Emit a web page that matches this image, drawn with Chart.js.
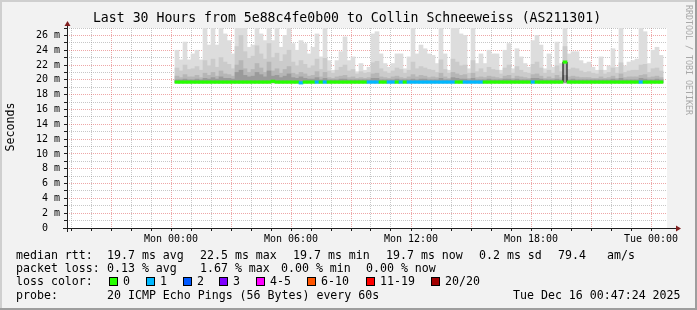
<!DOCTYPE html>
<html>
<head>
<meta charset="utf-8">
<script src="https://cdn.jsdelivr.net/npm/chart.js@4/dist/chart.umd.min.js"></script>
<style>
html, body { margin: 0; padding: 0; background: #f2f2f2; }
canvas { display: block; }
</style>
</head>
<body>
<canvas id="graph" width="697" height="310"></canvas>
<script>
const TITLE = "Last 30 Hours from 5e88c4fe0b00 to Collin Schneeweiss (AS211301)";
const Y_LABEL = "Seconds";
const WATERMARK = "RRDTOOL / TOBI OETIKER";

// time bins: 12 minutes each, hours counted from Mon 00:00
const FIRST_BIN = 0.3;
const BIN_HOURS = 0.2;
const SMOKE_FLOOR = 19.6;

// highest ping per bin (ms)
const maxRtt = [
    24.0, 22.7, 25.1, 22.7, 23.5, 24.0, 22.7, 27.5, 24.7, 27.5,
    24.7, 27.5, 26.2, 25.3, 23.5, 27.5, 27.5, 27.5, 24.4, 24.7,
    27.5, 26.2, 25.3, 27.5, 25.3, 27.5, 24.4, 26.0, 27.5, 24.9,
    24.0, 25.3, 24.9, 23.5, 24.4, 26.2, 23.1, 27.5, 22.6, 21.3,
    22.6, 23.8, 25.8, 22.6, 23.1, 21.1, 22.2, 21.3, 21.7, 26.2,
    26.5, 23.5, 22.2, 21.7, 22.2, 23.5, 23.5, 21.5, 23.1, 27.5,
    23.5, 24.7, 24.2, 23.5, 23.3, 22.2, 27.5, 23.5, 21.3, 27.5,
    27.5, 26.2, 26.0, 21.5, 27.5, 22.2, 23.5, 22.2, 24.0, 23.5,
    23.5, 21.3, 24.0, 24.9, 21.5, 24.2, 23.1, 22.2, 21.7, 25.3,
    26.0, 24.7, 21.5, 23.5, 21.7, 25.1, 22.2, 27.5, 23.5, 23.8,
    23.8, 22.6, 22.2, 22.4, 21.7, 21.3, 23.1, 21.3, 21.9, 24.2,
    21.7, 27.5, 21.9, 22.4, 22.6, 22.8, 27.5, 26.5, 22.2, 24.0,
    24.4, 23.3
];

// inner smoke bands
const upperRtt = [
    21.6, 21.2, 22.0, 21.4, 21.5, 21.8, 21.3, 22.6, 21.9, 22.8,
    21.7, 23.0, 22.4, 22.1, 21.5, 24.5, 26.0, 23.8, 22.9, 23.2,
    24.6, 23.5, 22.8, 24.9, 23.0, 23.6, 22.5, 23.4, 24.0, 22.4,
    21.9, 22.6, 22.1, 21.6, 21.9, 22.8, 21.4, 22.9, 21.2, 20.9,
    21.3, 21.7, 22.0, 21.2, 21.4, 20.8, 21.1, 20.9, 21.0, 22.3,
    22.5, 21.5, 21.1, 20.9, 21.2, 21.6, 21.4, 20.9, 21.3, 22.4,
    21.5, 21.8, 21.6, 21.4, 21.3, 21.0, 22.7, 21.4, 20.9, 22.8,
    22.4, 21.9, 22.0, 20.9, 22.6, 21.1, 21.5, 21.0, 21.7, 21.4,
    21.3, 20.8, 21.6, 22.0, 20.9, 21.8, 21.3, 21.0, 20.9, 22.1,
    22.4, 21.6, 20.9, 21.3, 20.9, 21.9, 21.1, 24.5, 21.4, 21.6,
    21.5, 21.2, 21.0, 21.1, 20.9, 20.8, 21.3, 20.8, 21.0, 21.6,
    20.9, 22.3, 21.0, 21.2, 21.3, 21.3, 22.0, 22.1, 21.0, 21.5,
    21.6, 21.2
];

const midRtt = [
    20.5, 20.3, 20.7, 20.4, 20.4, 20.6, 20.3, 20.9, 20.6, 21.0,
    20.5, 21.2, 20.8, 20.7, 20.5, 22.0, 22.6, 21.5, 21.0, 21.4,
    22.2, 21.6, 21.0, 22.4, 21.2, 21.5, 20.9, 21.4, 21.8, 20.9,
    20.7, 21.0, 20.8, 20.5, 20.6, 21.1, 20.4, 21.0, 20.3, 20.2,
    20.4, 20.5, 20.6, 20.3, 20.4, 20.2, 20.3, 20.2, 20.3, 20.8,
    20.9, 20.4, 20.3, 20.2, 20.4, 20.5, 20.3, 20.2, 20.4, 20.7,
    20.4, 20.6, 20.5, 20.3, 20.4, 20.3, 20.9, 20.4, 20.2, 21.0,
    20.8, 20.6, 20.7, 20.2, 20.9, 20.3, 20.4, 20.3, 20.5, 20.4,
    20.3, 20.2, 20.5, 20.6, 20.2, 20.5, 20.4, 20.3, 20.2, 20.7,
    20.8, 20.5, 20.2, 20.4, 20.2, 20.6, 20.3, 22.4, 20.4, 20.5,
    20.4, 20.3, 20.3, 20.3, 20.2, 20.2, 20.4, 20.2, 20.3, 20.5,
    20.2, 20.8, 20.3, 20.4, 20.4, 20.4, 20.6, 20.7, 20.3, 20.4,
    20.5, 20.3
];

const lowRtt = [
    20.0, 20.0, 20.1, 20.0, 20.0, 20.1, 20.0, 20.2, 20.1, 20.3,
    20.1, 20.4, 20.2, 20.2, 20.1, 21.0, 21.3, 20.6, 20.4, 20.5,
    21.0, 20.7, 20.4, 21.2, 20.5, 20.6, 20.3, 20.5, 20.8, 20.3,
    20.2, 20.4, 20.2, 20.1, 20.1, 20.3, 20.0, 20.2, 20.0, 20.0,
    20.0, 20.1, 20.1, 20.0, 20.0, 20.0, 20.0, 20.0, 20.0, 20.2,
    20.2, 20.0, 20.0, 20.0, 20.0, 20.1, 20.0, 20.0, 20.0, 20.1,
    20.0, 20.1, 20.1, 20.0, 20.0, 20.0, 20.2, 20.0, 20.0, 20.3,
    20.2, 20.1, 20.1, 20.0, 20.2, 20.0, 20.0, 20.0, 20.1, 20.0,
    20.0, 20.0, 20.1, 20.1, 20.0, 20.1, 20.0, 20.0, 20.0, 20.2,
    20.2, 20.1, 20.0, 20.0, 20.0, 20.1, 20.0, 20.6, 20.0, 20.1,
    20.0, 20.0, 20.0, 20.0, 20.0, 20.0, 20.0, 20.0, 20.0, 20.1,
    20.0, 20.2, 20.0, 20.0, 20.0, 20.0, 20.2, 20.1, 20.0, 20.0,
    20.1, 20.0
];

// median rtt (ms)
const medianRtt = [
    19.7, 19.7, 19.7, 19.7, 19.7, 19.7, 19.7, 19.7, 19.7, 19.7,
    19.7, 19.7, 19.7, 19.7, 19.7, 19.7, 19.7, 19.7, 19.7, 19.7,
    19.7, 19.7, 19.7, 19.7, 19.8, 19.7, 19.7, 19.7, 19.7, 19.7,
    19.7, 19.6, 19.7, 19.7, 19.7, 19.7, 19.7, 19.7, 19.7, 19.7,
    19.7, 19.7, 19.7, 19.7, 19.7, 19.7, 19.7, 19.7, 19.7, 19.7,
    19.7, 19.7, 19.7, 19.7, 19.7, 19.7, 19.7, 19.7, 19.7, 19.7,
    19.7, 19.7, 19.7, 19.7, 19.7, 19.7, 19.7, 19.7, 19.7, 19.7,
    19.7, 19.7, 19.7, 19.7, 19.7, 19.7, 19.7, 19.7, 19.7, 19.7,
    19.7, 19.7, 19.7, 19.7, 19.7, 19.7, 19.7, 19.7, 19.7, 19.7,
    19.7, 19.7, 19.7, 19.7, 19.7, 19.7, 19.7, 22.4, 19.7, 19.7,
    19.7, 19.7, 19.7, 19.7, 19.7, 19.7, 19.7, 19.7, 19.7, 19.7,
    19.7, 19.7, 19.7, 19.7, 19.7, 19.7, 19.7, 19.7, 19.7, 19.7,
    19.7, 19.7
];

// lost pings per bin (out of 20)
const lostPings = [
    0, 0, 0, 0, 0, 0, 0, 0, 0, 0,
    0, 0, 0, 0, 0, 0, 0, 0, 0, 0,
    0, 0, 0, 0, 0, 0, 0, 0, 0, 0,
    0, 1, 0, 0, 0, 1, 0, 1, 0, 0,
    0, 0, 0, 0, 0, 0, 0, 0, 1, 1,
    1, 0, 0, 1, 1, 0, 1, 0, 1, 1,
    1, 1, 1, 1, 1, 1, 1, 1, 1, 1,
    0, 0, 1, 1, 1, 1, 1, 0, 0, 0,
    0, 0, 0, 0, 0, 0, 0, 0, 0, 1,
    0, 0, 0, 0, 0, 0, 0, 0, 0, 0,
    0, 0, 0, 0, 0, 0, 0, 0, 0, 0,
    0, 0, 0, 0, 0, 0, 1, 0, 0, 0,
    0, 0
];

const LOSS_LABELS = ["0", "1", "2", "3", "4-5", "6-10", "11-19", "20/20"];
const LOSS_COLORS = ["#26ff00", "#00b8ff", "#0059ff", "#7e00ff", "#ff00ff", "#ff5500", "#ff0000", "#a10000"];

const STAT_LINES = [
    ["median rtt:", "19.7 ms avg", "22.5 ms max", "19.7 ms min", "19.7 ms now", "0.2 ms sd", "79.4", "am/s"],
    ["packet loss:", "0.13 % avg", "1.67 % max", "0.00 % min", "0.00 % now"],
];
const LOSS_TITLE = "loss color:";
const PROBE_LINE = ["probe:", "20 ICMP Echo Pings (56 Bytes) every 60s", "Tue Dec 16 00:47:24 2025"];

// layout of the text block under the graph
const STAT_X = [[16, 107, 200, 293, 386, 479, 558, 607], [16, 107, 200, 281, 366]];
const LINE_Y = [256, 268.5, 282, 295.5];
const BOX_X = [109, 146, 183, 219, 256, 307, 366, 431];
const PROBE_X = [16, 107, 513];

const W = 697, H = 310;
const MONO = '"DejaVu Sans Mono", monospace';
const GRID = "rgba(143,143,143,0.5)";
const MGRID = "rgba(222,79,79,0.5)";
const AXIS = "#1f1f1f";
const ARROW = "#801f1f";

const binHours = maxRtt.map((_, i) => FIRST_BIN + i * BIN_HOURS);

const smokeBand = (top, color, order) => ({
    type: "bar",
    data: binHours.map((h, i) => ({ x: h, y: [SMOKE_FLOOR, top[i]] })),
    backgroundColor: color,
    borderWidth: 0,
    grouped: false,
    barPercentage: 1,
    categoryPercentage: 1,
    order: order,
});

const frame = {
    id: "frame",
    beforeDraw(chart) {
        const c = chart.ctx;
        const a = chart.chartArea;
        c.save();
        c.fillStyle = "#f2f2f2";
        c.fillRect(0, 0, W, H);
        c.fillStyle = "#cfcfcf";
        c.fillRect(0, 0, W, 2);
        c.fillRect(0, 0, 2, H);
        c.fillStyle = "#9e9e9e";
        c.fillRect(0, H - 2, W, 2);
        c.fillRect(W - 2, 0, 2, H);
        c.fillStyle = "#ffffff";
        c.fillRect(a.left, a.top, a.right - a.left, a.bottom - a.top);
        c.restore();
    },
    afterDraw(chart) {
        const c = chart.ctx;
        const a = chart.chartArea;
        c.save();

        // axes
        c.strokeStyle = AXIS;
        c.lineWidth = 1;
        c.beginPath();
        c.moveTo(a.left - 4, a.bottom + 0.5);
        c.lineTo(a.right + 10, a.bottom + 0.5);
        c.moveTo(a.left + 0.5, a.bottom + 4);
        c.lineTo(a.left + 0.5, a.top - 4);
        c.stroke();

        c.fillStyle = ARROW;
        c.beginPath();
        c.moveTo(a.left - 2.5, a.top - 2);
        c.lineTo(a.left + 3.5, a.top - 2);
        c.lineTo(a.left + 0.5, a.top - 7);
        c.closePath();
        c.fill();
        c.beginPath();
        c.moveTo(a.right + 9, a.bottom - 2.5);
        c.lineTo(a.right + 9, a.bottom + 3.5);
        c.lineTo(a.right + 14, a.bottom + 0.5);
        c.closePath();
        c.fill();

        // title
        c.fillStyle = "#000";
        c.font = "13.2px " + MONO;
        c.textAlign = "center";
        c.textBaseline = "middle";
        c.fillText(TITLE, 347, 19);

        // y label
        c.font = "11.6px " + MONO;
        c.save();
        c.translate(10.5, 127);
        c.rotate(-Math.PI / 2);
        c.fillText(Y_LABEL, 0, 0);
        c.restore();

        // watermark
        c.save();
        c.fillStyle = "#a8a8a8";
        c.font = "8.3px " + MONO;
        c.textAlign = "left";
        c.translate(688, 5);
        c.rotate(Math.PI / 2);
        c.fillText(WATERMARK, 0, 0);
        c.restore();

        // legend block
        c.font = "11.6px " + MONO;
        c.textAlign = "left";
        c.fillStyle = "#000";
        STAT_LINES.forEach((line, r) => {
            line.forEach((txt, k) => c.fillText(txt, STAT_X[r][k], LINE_Y[r]));
        });
        c.fillText(LOSS_TITLE, 16, LINE_Y[2]);
        LOSS_LABELS.forEach((lbl, k) => {
            const bx = BOX_X[k];
            c.fillStyle = LOSS_COLORS[k];
            c.fillRect(bx, LINE_Y[2] - 4, 8, 8);
            c.strokeStyle = "#000";
            c.strokeRect(bx + 0.5, LINE_Y[2] - 4.5, 8, 8);
            c.fillStyle = "#000";
            c.fillText(lbl, bx + 14, LINE_Y[2]);
        });
        PROBE_LINE.forEach((txt, k) => c.fillText(txt, PROBE_X[k], LINE_Y[3]));

        c.restore();
    },
};

Chart.defaults.font.family = MONO;

new Chart(document.getElementById("graph"), {
    type: "bar",
    data: {
        datasets: [
            {
                type: "bar",
                data: binHours.map((h, i) => ({ x: h, y: [medianRtt[i] - 0.17, medianRtt[i] + 0.17] })),
                backgroundColor: lostPings.map((n) => LOSS_COLORS[n]),
                borderWidth: 0,
                grouped: false,
                barPercentage: 1,
                categoryPercentage: 1,
                order: 0,
            },
            {
                type: "line",
                data: binHours.map((h, i) => ({ x: h, y: medianRtt[i] })),
                stepped: "middle",
                borderColor: "#000",
                borderWidth: 1,
                pointRadius: 0,
                order: 1,
            },
            smokeBand(lowRtt, "#9a9a9a", 2),
            smokeBand(midRtt, "#b6b6b6", 3),
            smokeBand(upperRtt, "#cbcbcb", 4),
            smokeBand(maxRtt, "#dddddd", 5),
        ],
    },
    options: {
        responsive: false,
        animation: false,
        devicePixelRatio: 1,
        layout: { padding: { top: 28, right: 30, left: 0, bottom: 0 } },
        plugins: {
            legend: { display: false },
            tooltip: { enabled: false },
        },
        scales: {
            x: {
                type: "linear",
                min: -5.2,
                max: 24.8,
                offset: false,
                z: 1,
                afterFit: (s) => { s.height = 82; },
                afterBuildTicks: (s) => {
                    s.ticks = [];
                    for (let v = -5; v <= 24; v++) s.ticks.push({ value: v });
                },
                grid: {
                    offset: false,
                    color: (c) => (c.tick && c.tick.value % 3 === 0 ? MGRID : GRID),
                    tickColor: AXIS,
                    tickLength: 3,
                },
                border: { display: false, dash: [1, 1] },
                ticks: {
                    autoSkip: false,
                    maxRotation: 0,
                    minRotation: 0,
                    padding: 2,
                    color: "#000",
                    font: { size: 10, family: MONO },
                    callback: (v) => {
                        if (v < 0 || v % 6 !== 0) return "";
                        const day = v >= 24 ? "Tue" : "Mon";
                        return day + " " + String(v % 24).padStart(2, "0") + ":00";
                    },
                },
            },
            y: {
                min: 0,
                max: 27,
                z: 1,
                afterFit: (s) => { s.width = 67; },
                afterBuildTicks: (s) => {
                    s.ticks = [];
                    for (let v = 0; v <= 27; v++) s.ticks.push({ value: v });
                },
                grid: {
                    color: (c) => (c.tick && c.tick.value % 2 === 0 ? MGRID : GRID),
                    tickColor: AXIS,
                    tickLength: 3,
                },
                border: { display: false, dash: [1, 1] },
                ticks: {
                    autoSkip: false,
                    padding: 4,
                    color: "#000",
                    font: { size: 10, family: MONO },
                    callback: (v) => (v % 2 ? "" : v === 0 ? "0  " : v + " m"),
                },
            },
        },
    },
    plugins: [frame],
});
</script>
</body>
</html>
